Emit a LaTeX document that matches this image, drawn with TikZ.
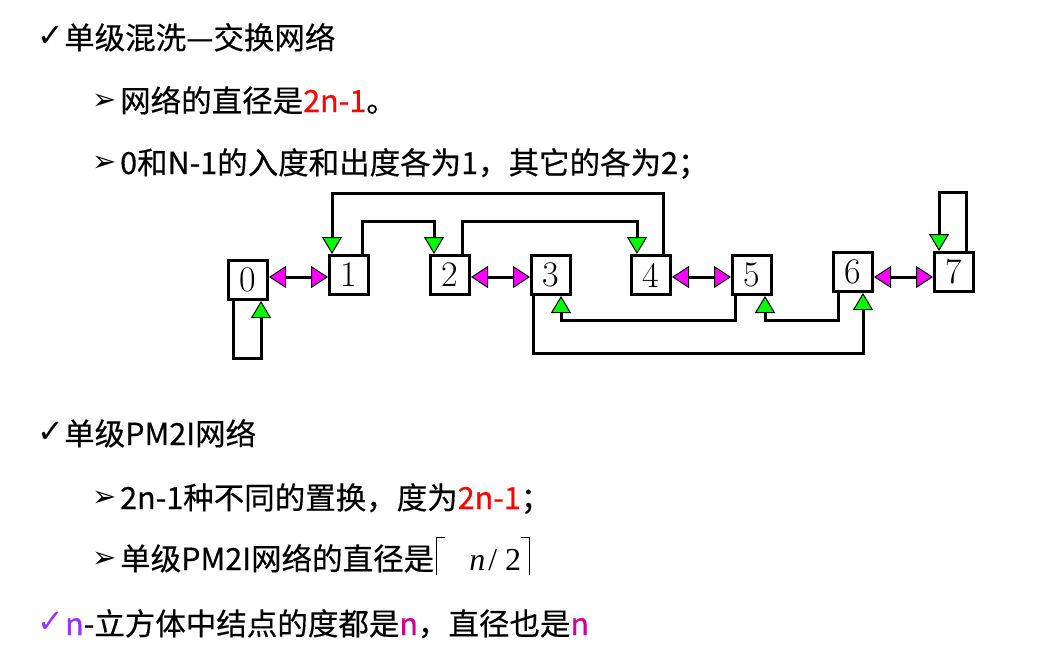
\documentclass[tikz,border=0pt]{standalone}
\usepackage{fontspec}
\newfontfamily\cjk[FakeBold=0.4]{Noto Sans CJK SC}
\newfontfamily\djv{DejaVu Sans}
\newfontfamily\tms{Liberation Serif}
\usetikzlibrary{arrows.meta}
\definecolor{tgreen}{RGB}{0,255,0}
\definecolor{tmag}{RGB}{255,0,255}
\definecolor{tpurple}{RGB}{153,51,255}
\definecolor{nmag}{RGB}{204,0,153}
\definecolor{tred}{RGB}{255,0,0}
\newcommand\myceilL{\rule[-5pt]{1.2pt}{38pt}\rule[31.8pt]{8pt}{1.2pt}}
\newcommand\myceilR{\rule[31.8pt]{8pt}{1.2pt}\rule[-5pt]{1.2pt}{38pt}}
\begin{document}
\begin{tikzpicture}[x=1pt,y=-1pt,
  box/.style={draw, line width=3pt, minimum size=39pt, inner sep=0pt, fill=white,
    font=\fontsize{36}{36}\selectfont},
  conn/.style={line width=3pt},
  gtip/.style={-{Triangle[length=17pt,width=20pt,fill=tgreen,line width'=1pt]}},
  mtip/.style={{Triangle[length=17pt,width=22pt,fill=tmag,line width'=1pt]}-{Triangle[length=17pt,width=22pt,fill=tmag,line width'=1pt]}},
  txt/.style={anchor=base west, inner sep=0pt, font=\cjk\fontsize{30.5}{36}\selectfont},
  chk/.style={anchor=base west, inner sep=0pt, font=\djv\fontsize{32}{32}\selectfont},
  bul/.style={anchor=base west, inner sep=0pt, font=\djv\fontsize{29}{29}\selectfont}
]
\useasboundingbox (0,0) rectangle (1054,648);

% ---- text ----
\node[chk] (c1) at (37,46) {✓};
\node[txt] (t1) at (64,49) {单级混洗—交换网络};
\node[bul] (a2) at (92,109) {➢};
\node[txt] (t2) at (120,112) {网络的直径是\textcolor{tred}{2n-1}。};
\node[bul] (a3) at (92,171) {➢};
\node[txt] (t3) at (120,174) {0和N-1的入度和出度各为1，其它的各为2；};
\node[chk] (c4) at (37,442) {✓};
\node[txt] (t4) at (64,445) {单级PM2I网络};
\node[bul] (a5) at (92,506) {➢};
\node[txt] (t5) at (120,509) {2n-1种不同的置换，度为\textcolor{tred}{2n-1}；};
\node[bul] (a6) at (92,567) {➢};
\node[txt] (t6) at (120,570) {单级PM2I网络的直径是\hspace{2pt}\myceilL\hspace{24pt}{\tms\fontsize{32}{32}\selectfont\itshape n}\hspace{3pt}{\tms\fontsize{32}{32}\selectfont /}\hspace{8pt}{\tms\fontsize{32}{32}\selectfont 2}\myceilR};
\node[chk,text=tpurple] (c7) at (37,632) {✓};
\node[txt] (t7) at (65,635) {\textcolor{tpurple}{n}-立方体中结点的度都是\textcolor{nmag}{n}，直径也是\textcolor{nmag}{n}};

% ---- boxes ----
\node[box] (b0) at (248,280) {0};
\node[box] (b1) at (349,275) {1};
\node[box] (b2) at (450,275) {2};
\node[box] (b3) at (551,275) {3};
\node[box] (b4) at (651,275) {4};
\node[box] (b5) at (752,275) {5};
\node[box] (b6) at (853,272) {6};
\node[box] (b7) at (954,272) {7};

\coordinate (ytop1) at (0,193);
\coordinate (ytop2) at (0,221);
\coordinate (ybot1) at (0,320);
\coordinate (ybot2) at (0,353);
\coordinate (yloop0) at (0,358);
\coordinate (yloop7) at (0,192);

% ---- shuffle / exchange connectors ----
\draw[conn,gtip] ([xshift=12pt]b4.north) -- ([xshift=12pt]b4.north |- ytop1) -| ([xshift=-17pt]b1.north);
\draw[conn,gtip] ([xshift=13pt]b1.north) -- ([xshift=13pt]b1.north |- ytop2) -| ([xshift=-16pt]b2.north);
\draw[conn,gtip] ([xshift=12pt]b2.north) -- ([xshift=12pt]b2.north |- ytop2) -| ([xshift=-14pt]b4.north);
\draw[conn,gtip] ([xshift=12pt]b7.north) -- ([xshift=12pt]b7.north |- yloop7) -| ([xshift=-15pt]b7.north);
\draw[conn,gtip] ([xshift=-15pt]b0.south) -- ([xshift=-15pt]b0.south |- yloop0) -| ([xshift=13pt]b0.south);
\draw[conn,gtip] ([xshift=-17pt]b5.south) -- ([xshift=-17pt]b5.south |- ybot1) -| ([xshift=10pt]b3.south);
\draw[conn,gtip] ([xshift=-15pt]b6.south) -- ([xshift=-15pt]b6.south |- ybot1) -| ([xshift=13pt]b5.south);
\draw[conn,gtip] ([xshift=-18pt]b3.south) -- ([xshift=-18pt]b3.south |- ybot2) -| ([xshift=10pt]b6.south);

\draw[conn,mtip] ([yshift=-2pt]b1.west -| b0.east) -- ([yshift=-2pt]b1.west);
\draw[conn,mtip] ([yshift=-2pt]b2.east) -- ([yshift=-2pt]b3.west);
\draw[conn,mtip] ([yshift=-2pt]b4.east) -- ([yshift=-2pt]b5.west);
\draw[conn,mtip] ([yshift=-5pt]b6.east) -- ([yshift=-5pt]b7.west);
\end{tikzpicture}
\end{document}
